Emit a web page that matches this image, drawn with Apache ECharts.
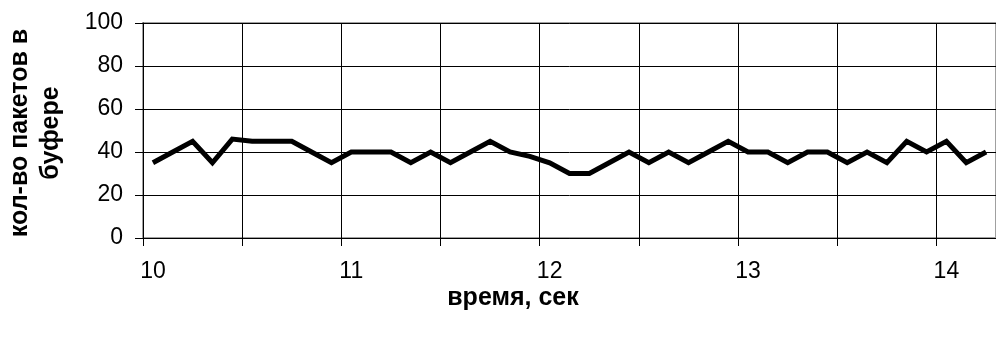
<!DOCTYPE html>
<html>
<head>
<meta charset="utf-8">
<script src="https://cdn.jsdelivr.net/npm/echarts@6/dist/echarts.min.js"></script>
<style>html,body{margin:0;padding:0;background:#fff}#c{width:996px;height:338px}</style>
</head>
<body>
<div id="c"></div>
<script>
// Time (s), one point every 0.1 s
var times = ["10.0","10.1","10.2","10.3","10.4","10.5","10.6","10.7","10.8","10.9",
             "11.0","11.1","11.2","11.3","11.4","11.5","11.6","11.7","11.8","11.9",
             "12.0","12.1","12.2","12.3","12.4","12.5","12.6","12.7","12.8","12.9",
             "13.0","13.1","13.2","13.3","13.4","13.5","13.6","13.7","13.8","13.9",
             "14.0","14.1","14.2"];
// packets in buffer
var packets = [35,40,45,35,46,45,45,45,40,35,
               40,40,40,35,40,35,40,45,40,38,
               35,30,30,35,40,35,40,35,40,45,
               40,40,35,40,40,35,40,35,45,40,
               45,35,40];
var yTicks = [0,20,40,60,80,100];
var xTitle = "время, сек";
var yTitle = "кол-во пакетов в\nбуфере";

var font = "'Liberation Sans', Arial, sans-serif";
var chart = echarts.init(document.getElementById('c'), null, {renderer:'canvas'});
chart.setOption({
  animation:false,
  backgroundColor:'#ffffff',
  grid:{left:143, top:23, width:856, height:215, show:true, borderColor:'#a0a0a0', borderWidth:2, backgroundColor:'#ffffff'},
  xAxis:{
    type:'category', data:times, boundaryGap:true,
    axisLine:{show:true, lineStyle:{color:'#000', width:1}},
    axisTick:{show:true, interval:4, length:8, lineStyle:{color:'#000'}},
    axisLabel:{interval:9, margin:22, color:'#000', fontFamily:font, fontSize:23,
      formatter:function(v){return String(parseFloat(v));}},
    splitLine:{show:true, interval:4, lineStyle:{color:'#000', width:1}}
  },
  yAxis:{
    type:'value', min:yTicks[0], max:yTicks[yTicks.length-1], interval:20,
    axisLine:{show:true, lineStyle:{color:'#000', width:1}},
    axisTick:{show:true, length:8, lineStyle:{color:'#000'}},
    axisLabel:{margin:20, color:'#000', fontFamily:font, fontSize:23},
    splitLine:{show:true, lineStyle:{color:'#000', width:1}}
  },
  graphic:[
    {type:'text', x:513, y:298, style:{text:xTitle, fill:'#000', font:'bold 25px '+font, textAlign:'center', textVerticalAlign:'middle'}},
    {type:'text', x:36, y:133, rotation:Math.PI/2, style:{text:yTitle, fill:'#000', font:'bold 25px '+font, lineHeight:31, textAlign:'center', textVerticalAlign:'middle'}}
  ],
  series:[{
    type:'line', data:packets, showSymbol:false, symbol:'none',
    lineStyle:{color:'#000', width:5, join:'miter'}
  }]
});
</script>
</body>
</html>
